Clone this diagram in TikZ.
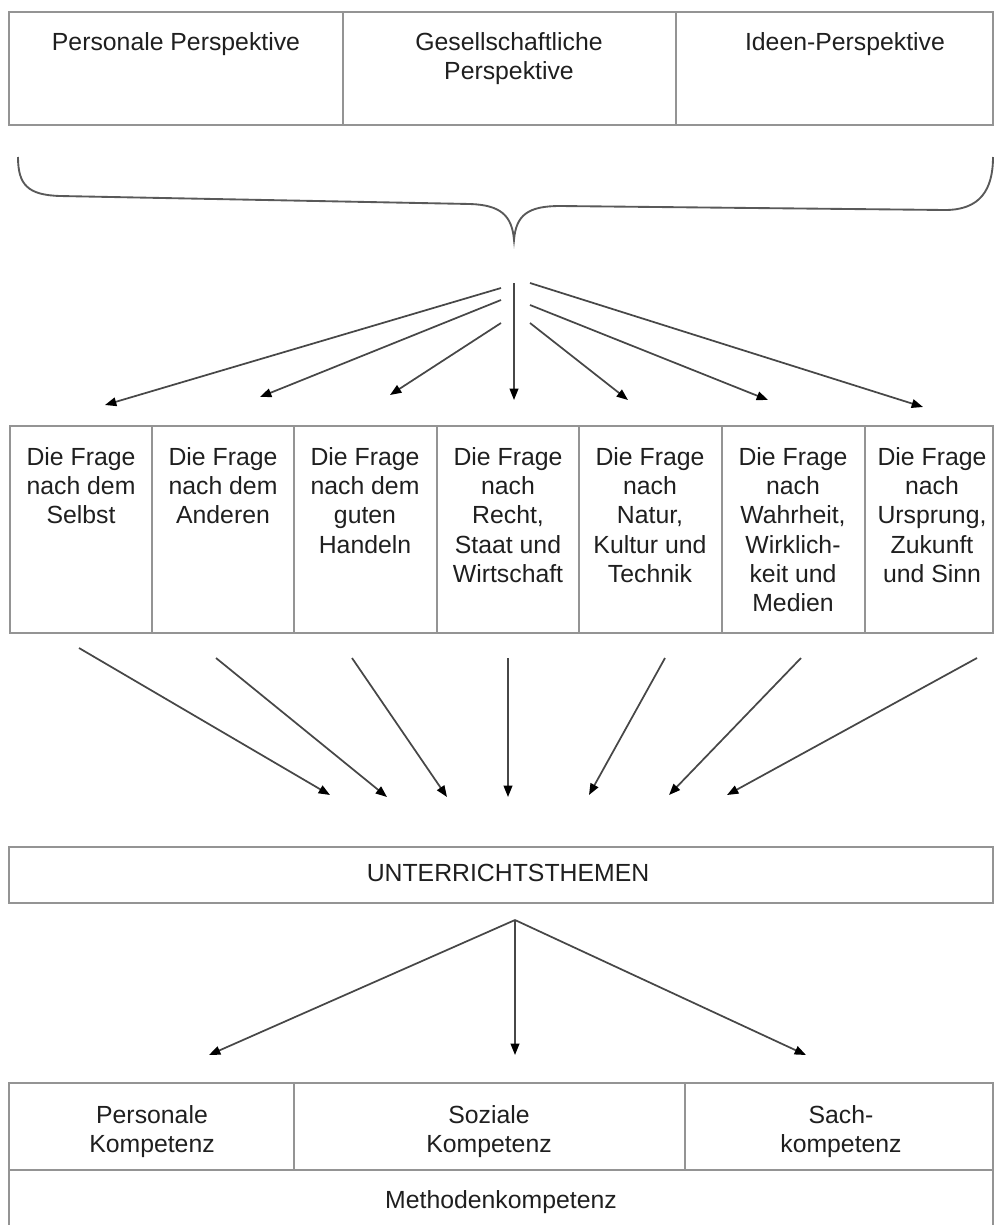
\documentclass[tikz,border=0pt]{standalone}
\usepackage{fontspec}
\setmainfont{Liberation Sans}
\usepackage{xcolor}
\usetikzlibrary{arrows.meta}

\begin{document}
\begin{tikzpicture}[x=0.75pt,y=0.75pt,yscale=-1,xscale=1,
  box/.style={draw=black!42, line width=1.3pt},
  curly/.style={draw=black!65, line width=1.4pt},
  label/.style={anchor=north, inner sep=0pt, align=center, text=black!88, font=\fontsize{18.6}{22}\selectfont},
  arr/.style={draw=black!72, line width=1.3pt, -{Triangle[length=8.5pt,width=6.5pt,color=black]}}]

\useasboundingbox (0,0) rectangle (995,1225);

% perspectives
\draw [box] (9,12) rectangle (343,125);
\draw [box] (343,12) rectangle (676,125);
\draw [box] (676,12) rectangle (993,125);

\draw (176,32) node [label] (persP) {Personale Perspektive};
\draw (509,32) node [label] (gesP) {Gesellschaftliche\\Perspektive};
\draw (845,32) node [label] (ideP) {Ideen-Perspektive};

% brace
\draw [curly] (18,157) .. controls (18,185) and (28,195) .. (60,196) -- (470,204)
  .. controls (500,205) and (512,215) .. (514,240)
  .. controls (516,215) and (528,206) .. (560,206) -- (945,210)
  .. controls (980,210) and (993,190) .. (993,157);

% upper fan
\coordinate (s1) at (501,288);
\coordinate (s2) at (501,300);
\coordinate (s3) at (501,323);
\coordinate (s4) at (514,283);
\coordinate (s5) at (530,323);
\coordinate (s6) at (530,305);
\coordinate (s7) at (530,283);

\coordinate (e1) at (105,405);
\coordinate (e2) at (260,397);
\coordinate (e3) at (390,395);
\coordinate (e4) at (514,400);
\coordinate (e5) at (628,400);
\coordinate (e6) at (768,400);
\coordinate (e7) at (923,407);

\draw [arr] (s1) -- (e1);
\draw [arr] (s2) -- (e2);
\draw [arr] (s3) -- (e3);
\draw [arr] (s4) -- (e4);
\draw [arr] (s5) -- (e5);
\draw [arr] (s6) -- (e6);
\draw [arr] (s7) -- (e7);

% questions
\draw [box] (10,426) rectangle (152,633);
\draw [box] (152,426) rectangle (294,633);
\draw [box] (294,426) rectangle (437,633);
\draw [box] (437,426) rectangle (579,633);
\draw [box] (579,426) rectangle (722,633);
\draw [box] (722,426) rectangle (865,633);
\draw [box] (865,426) rectangle (993,633);

\draw (81,447) node [label] (selbst) {Die Frage\\nach dem\\Selbst};
\draw (223,447) node [label] (anderen) {Die Frage\\nach dem\\Anderen};
\draw (365,447) node [label] (handeln) {Die Frage\\nach dem\\guten\\Handeln};
\draw (508,447) node [label] (recht) {Die Frage\\nach\\Recht,\\Staat und\\Wirtschaft};
\draw (650,447) node [label] (natur) {Die Frage\\nach\\Natur,\\Kultur und\\Technik};
\draw (793,447) node [label] (wahrheit) {Die Frage\\nach\\Wahrheit,\\Wirklich-\\keit und\\Medien};
\draw (932,447) node [label] (ursprung) {Die Frage\\nach\\Ursprung,\\Zukunft\\und Sinn};

% lower fan
\coordinate (l1) at (79,648);
\coordinate (l2) at (216,658);
\coordinate (l3) at (352,658);
\coordinate (l4) at (508,658);
\coordinate (l5) at (665,658);
\coordinate (l6) at (801,658);
\coordinate (l7) at (977,658);

\coordinate (m1) at (330,795);
\coordinate (m2) at (387,797);
\coordinate (m3) at (447,797);
\coordinate (m4) at (508,797);
\coordinate (m5) at (589,795);
\coordinate (m6) at (669,795);
\coordinate (m7) at (727,795);

\draw [arr] (l1) -- (m1);
\draw [arr] (l2) -- (m2);
\draw [arr] (l3) -- (m3);
\draw [arr] (l4) -- (m4);
\draw [arr] (l5) -- (m5);
\draw [arr] (l6) -- (m6);
\draw [arr] (l7) -- (m7);

% topics
\draw [box] (9,847) rectangle (993,903);
\draw (508,864) node [label] (themen) {UNTERRICHTSTHEMEN};

\coordinate (o) at (515,920);
\coordinate (k1) at (209,1055);
\coordinate (k2) at (515,1055);
\coordinate (k3) at (806,1055);

\draw [arr] (o) -- (k1);
\draw [arr] (o) -- (k2);
\draw [arr] (o) -- (k3);

% competences
\draw [box] (9,1083) rectangle (294,1170);
\draw [box] (294,1083) rectangle (685,1170);
\draw [box] (685,1083) rectangle (993,1170);
\draw [box] (9,1170) -- (9,1226);
\draw [box] (993,1170) -- (993,1226);

\draw (152,1105) node [label] (personal) {Personale\\Kompetenz};
\draw (489,1105) node [label] (sozial) {Soziale\\Kompetenz};
\draw (841,1105) node [label] (sach) {Sach-\\kompetenz};
\draw (501,1190) node [label] (methode) {Methodenkompetenz};

\end{tikzpicture}
\end{document}
